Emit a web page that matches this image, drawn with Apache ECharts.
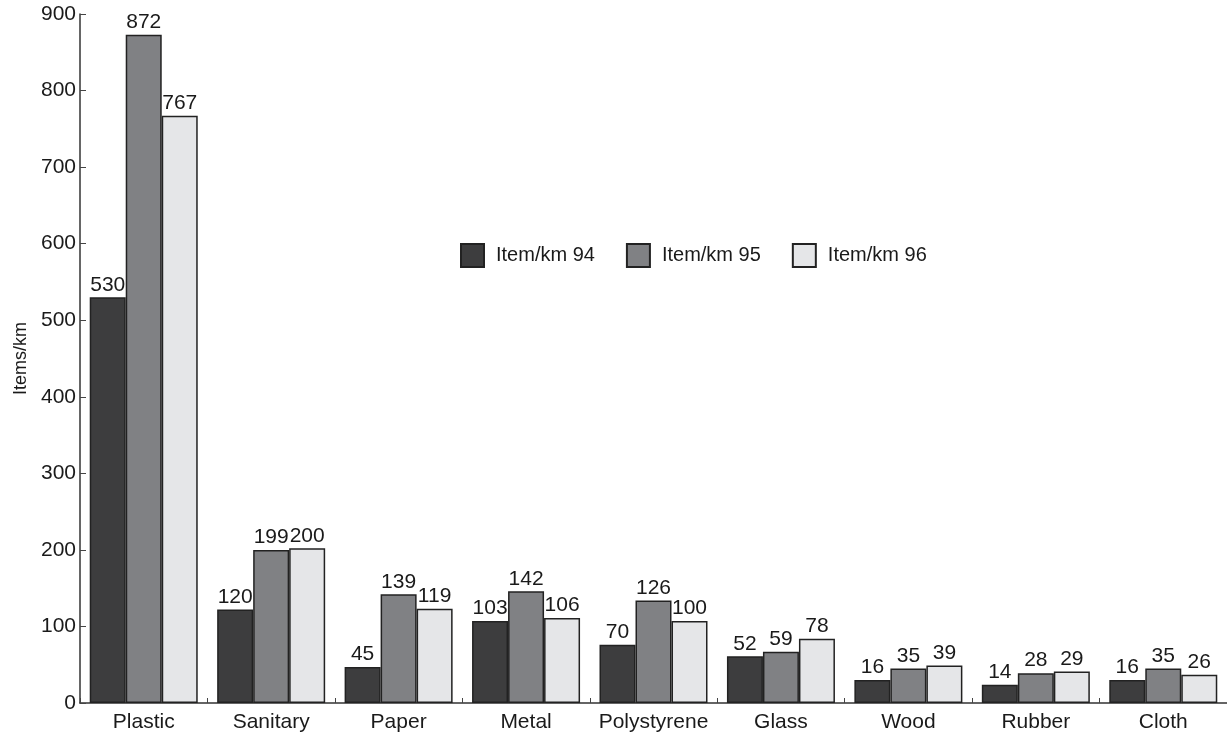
<!DOCTYPE html>
<html>
<head>
<meta charset="utf-8">
<script src="https://cdn.jsdelivr.net/npm/echarts@6/dist/echarts.min.js"></script>
<style>
html,body{margin:0;padding:0;background:#fff;}
#chart{width:1227px;height:733px;}
</style>
</head>
<body>
<div id="chart"></div>
<script>
const categories = ['Plastic','Sanitary','Paper','Metal','Polystyrene','Glass','Wood','Rubber','Cloth'];
const seriesNames = ['Item/km 94','Item/km 95','Item/km 96'];
// bar heights as drawn in the picture
const bars94 = [530, 122, 47, 107, 76, 61, 30, 24, 30];
const bars95 = [873, 200, 142, 146, 134, 67, 45, 39, 45];
const bars96 = [767, 202, 123, 111, 107, 84, 49, 41, 37];
// printed value labels
const labels94 = [530, 120, 45, 103, 70, 52, 16, 14, 16];
const labels95 = [872, 199, 139, 142, 126, 59, 35, 28, 35];
const labels96 = [767, 200, 119, 106, 100, 78, 39, 29, 26];
const yTicks = [0,100,200,300,400,500,600,700,800,900];

const FONT = '"Liberation Sans", Arial, Helvetica, sans-serif';
const colors = ['#3d3d3e', '#808184', '#e5e6e8'];
const barsAll = [bars94, bars95, bars96];
const labelsAll = [labels94, labels95, labels96];

const chart = echarts.init(document.getElementById('chart'), null, {renderer:'canvas'});
chart.setOption({
  animation: false,
  backgroundColor: '#fff',
  textStyle: {fontFamily: FONT},
  legend: {
    left: 455, top: 238,
    icon: 'rect',
    itemWidth: 23, itemHeight: 23, itemGap: 31,
    textStyle: {fontFamily: FONT, fontSize: 20, color: '#1a1a1a', padding: [0, 0, 0, 7]},
    data: seriesNames
  },
  grid: {left: 80, top: 14, width: 1158, height: 689, containLabel: false},
  xAxis: {
    type: 'category',
    data: categories,
    axisLine: {lineStyle: {color: '#333', width: 1.5}},
    axisTick: {show: true, inside: true, length: 5, lineStyle: {color: '#444'}},
    axisLabel: {interval: 0, fontFamily: FONT, fontSize: 21, color: '#1a1a1a', margin: 9}
  },
  yAxis: {
    type: 'value', min: yTicks[0], max: yTicks[yTicks.length-1], interval: 100,
    name: 'Items/km', nameLocation: 'middle', nameGap: 47, nameRotate: 90,
    nameTextStyle: {fontFamily: FONT, fontSize: 18, color: '#1a1a1a'},
    axisLine: {show: true, lineStyle: {color: '#333', width: 1.5}},
    axisTick: {show: true, inside: true, length: 6, lineStyle: {color: '#444'}},
    axisLabel: {fontFamily: FONT, fontSize: 21, color: '#1a1a1a', margin: 4},
    splitLine: {show: false}
  },
  series: seriesNames.map((name, i) => ({
    name: name,
    type: 'bar',
    data: barsAll[i],
    barWidth: 36,
    barGap: '0%',
    itemStyle: {color: colors[i], borderColor: '#222', borderWidth: 1.5},
    label: {
      show: true, position: 'top', distance: 2,
      fontFamily: FONT, fontSize: 21, color: '#1a1a1a',
      formatter: p => String(labelsAll[i][p.dataIndex])
    }
  }))
});
</script>
</body>
</html>
